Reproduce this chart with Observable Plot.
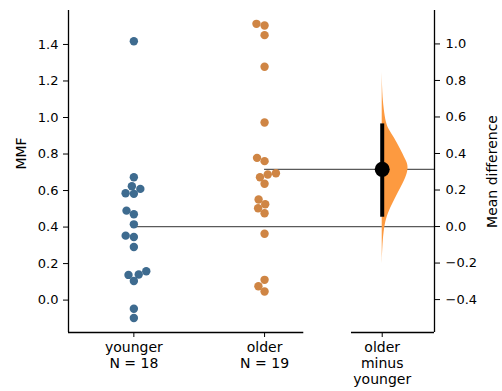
<!DOCTYPE html>
<html><head><meta charset="utf-8">
<script src="https://cdn.jsdelivr.net/npm/d3@7"></script>
<script src="https://cdn.jsdelivr.net/npm/@observablehq/plot@0.6"></script>
<style>
body{margin:0;background:#fff}
#chart svg text{font-family:"DejaVu Sans",sans-serif}
</style>
</head><body><div id="chart"></div>
<script>
// ---- data ----
const groups = ["younger", "older"];
const groupCounts = ["N = 18", "N = 19"];
const younger = [1.418, 0.673, 0.624, 0.585, 0.582, 0.609, 0.490, 0.470, 0.415, 0.353, 0.346, 0.291, 0.138, 0.140, 0.158, 0.105, -0.047, -0.098];
const older = [1.513, 1.504, 1.451, 1.278, 0.973, 0.779, 0.761, 0.695, 0.688, 0.673, 0.637, 0.551, 0.525, 0.503, 0.476, 0.363, 0.111, 0.076, 0.047];
const yTicks = [0, 0.2, 0.4, 0.6, 0.8, 1.0, 1.2, 1.4];
const diffTicks = [-0.4, -0.2, 0, 0.2, 0.4, 0.6, 0.8, 1.0];
const diffTickLabels = ["\u22120.4", "\u22120.2", "0.0", "0.2", "0.4", "0.6", "0.8", "1.0"];
const ciDiff = [0.051, 0.562];
// bootstrap distribution of mean difference (half violin)
const bootDiff = [0.843, 0.75, 0.694, 0.639, 0.567, 0.529, 0.490, 0.419, 0.364, 0.336, 0.292, 0.237, 0.182, 0.127, 0.072, 0.017, -0.077, -0.204];
const bootDensity = [0, 0.4, 1, 2, 4, 7, 12, 19, 24, 26.5, 26, 21.5, 16, 11, 6, 3, 0.8, 0];
const diffLabel = "older\nminus\nyounger";
const yLabel = "MMF", diffAxisLabel = "Mean difference";

// ---- layout ----
const W = 502, H = 391, mL = 68, mR = 68, mT = 10, mB = 59;
const xDomain = [-0.5, 2.3];
const yDomain = [-0.1774, 1.586];
const xPos = [0, 1, 1.9];
const leftAxisEnd = 1.3, rightAxisStart = 1.665;
const violinMaxWidth = 0.2;
const colors = ["#3e6b8f", "#cf8544"];
const violinColor = "#fd9a40";
const FS = 13, LFS = 14;

const pxPerX = (W - mL - mR) / (xDomain[1] - xDomain[0]);
const pxPerY = (H - mB - mT) / (yDomain[1] - yDomain[0]);

function swarm(values, center, r) {
  const pts = values.map((v) => ({v, y: v * pxPerY, x: 0}));
  const sorted = pts.slice().sort((a, b) => a.y - b.y);
  const placed = [];
  for (const p of sorted) {
    const nb = [];
    for (let j = placed.length - 1; j >= 0; j--) {
      if (p.y - placed[j].y < 2 * r) nb.push(placed[j]); else break;
    }
    const cand = [0];
    let leftFirst = true;
    for (const n of nb) {
      const dy = p.y - n.y;
      const dx = Math.sqrt(Math.max(4 * r * r - dy * dy, 0)) * 1.05;
      const cl = n.x - dx, cr = n.x + dx;
      if (leftFirst) cand.push(cl, cr); else cand.push(cr, cl);
      leftFirst = !leftFirst;
    }
    const order = cand.map((c, i) => [c, i]).sort((a, b) => Math.abs(a[0]) - Math.abs(b[0]) || a[1] - b[1]);
    let chosen = order[0][0];
    for (const [c] of order) {
      if (nb.every(n => (n.x - c) ** 2 + (n.y - p.y) ** 2 >= 4 * r * r - 1e-9)) { chosen = c; break; }
    }
    p.x = chosen;
    placed.push(p);
  }
  return pts.map(p => ({x: center + p.x / pxPerX, y: p.v}));
}

const rDot = 3.95;
const dots = [
  ...swarm(younger, xPos[0], rDot).map(d => ({...d, g: groups[0]})),
  ...swarm(older, xPos[1], rDot).map(d => ({...d, g: groups[1]}))
];
const ym = d3.mean(younger), om = d3.mean(older);
const maxDens = d3.max(bootDensity);
const violin = bootDiff.map((d, i) => ({y: d + ym, w: xPos[2] + bootDensity[i] / maxDens * violinMaxWidth}));
const meanLines = [{y: ym, x1: xPos[0]}, {y: om, x1: xPos[1]}];
const xLabels = [groups[0] + "\n" + groupCounts[0], groups[1] + "\n" + groupCounts[1], diffLabel];

const chart = Plot.plot({
  width: W, height: H,
  marginLeft: mL, marginRight: mR, marginTop: mT, marginBottom: mB,
  style: {fontFamily: "DejaVu Sans", fontSize: FS + "px", color: "#000", background: "#fff"},
  x: {type: "linear", domain: xDomain},
  y: {domain: yDomain},
  color: {domain: groups, range: colors},
  marks: [
    Plot.ruleY(meanLines, {y: "y", x1: "x1", x2: xDomain[1], stroke: "#5a5a5a", strokeWidth: 1.3}),
    Plot.areaX(violin, {y: "y", x1: xPos[2], x2: "w", fill: violinColor, curve: "basis"}),
    Plot.dot(dots, {x: "x", y: "y", fill: "g", r: 4.2, stroke: "none"}),
    Plot.ruleX([xPos[2]], {y1: ciDiff[0] + ym, y2: ciDiff[1] + ym, stroke: "#000", strokeWidth: 4}),
    Plot.dot([{x: xPos[2], y: om}], {x: "x", y: "y", r: 7.5, fill: "#000"}),
    // spines
    Plot.ruleX([xDomain[0]], {y1: yDomain[0], y2: yDomain[1], stroke: "#000", strokeWidth: 1.3}),
    Plot.ruleX([xDomain[1]], {y1: yDomain[0], y2: yDomain[1], stroke: "#000", strokeWidth: 1.3}),
    Plot.ruleY([yDomain[0]], {x1: xDomain[0], x2: leftAxisEnd, stroke: "#000", strokeWidth: 1.3}),
    Plot.ruleY([yDomain[0]], {x1: rightAxisStart, x2: xDomain[1], stroke: "#000", strokeWidth: 1.3}),
    Plot.axisY({anchor: "left", ticks: yTicks, tickFormat: d3.format(".1f"), tickSize: 5, tickPadding: 5, label: null, fill: "#000", fontSize: FS}),
    Plot.axisY({anchor: "right", ticks: diffTicks.map(d => d + ym), tickFormat: (v, i) => diffTickLabels[i], tickSize: 5, tickPadding: 6, label: null, fill: "#000", fontSize: FS}),
    Plot.axisX({ticks: xPos, tickSize: 5, tickFormat: () => "", label: null}),
    Plot.text(xLabels, {x: (d, i) => xPos[i], frameAnchor: "bottom", lineAnchor: "top", dy: 8, lineHeight: 1.15, fill: "#000", fontSize: LFS}),
    Plot.text([yLabel], {frameAnchor: "left", rotate: -90, textAnchor: "middle", lineAnchor: "middle", dx: -47, dy: -18, fill: "#000", fontSize: LFS}),
    Plot.text([diffAxisLabel], {frameAnchor: "right", rotate: -90, textAnchor: "middle", lineAnchor: "middle", dx: 58, fill: "#000", fontSize: LFS})
  ]
});
document.getElementById("chart").appendChild(chart);
</script>
</body></html>
